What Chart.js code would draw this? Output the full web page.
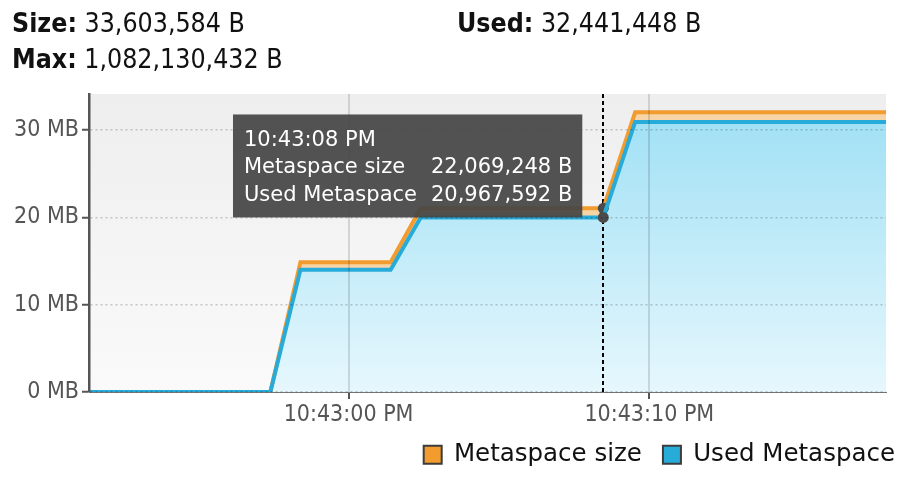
<!DOCTYPE html>
<html>
<head>
<meta charset="utf-8">
<script src="https://cdn.jsdelivr.net/npm/chart.js@4/dist/chart.umd.min.js"></script>
<style>
  html, body { margin: 0; padding: 0; background: #fff; }
  #wrap { position: relative; width: 908px; height: 478px; overflow: hidden; }
  #c { position: absolute; left: 0; top: 0; }
  .hdr { position: absolute; font-family: "DejaVu Sans Condensed", "DejaVu Sans", sans-serif; font-stretch: condensed; font-size: 26.5px; color: #111; white-space: nowrap; line-height: 28px; }
  .hdr b { font-weight: bold; }
</style>
</head>
<body>
<div id="wrap">
  <canvas id="c" width="908" height="478"></canvas>
  <div class="hdr" id="h1" style="left:12px; top:8.5px;"></div>
  <div class="hdr" id="h2" style="left:457px; top:8.5px;"></div>
  <div class="hdr" id="h3" style="left:12px; top:44.8px;"></div>
</div>
<script>
// ---- data ----
const headerLabels = ['Size:', 'Used:', 'Max:'];
const headerValues = [33603584, 32441448, 1082130432];
// seconds relative to 10:43:00 PM
const timeOffsets = [-8.63, -2.6, -1.6, 1.4, 2.4, 8.47, 9.53, 17.87];
const metaspaceSize = [0, 0, 15600000, 15600000, 22069248, 22069248, 33603584, 33603584];
const usedMetaspace = [0, 0, 14680000, 14680000, 20967592, 20967592, 32441448, 32441448];
const seriesNames = ['Metaspace size', 'Used Metaspace'];
const xTickValues = [0, 10];
const xTickLabels = ['10:43:00 PM', '10:43:10 PM'];
const MiB = 1048576;
const yTickValues = [0, 10 * MiB, 20 * MiB, 30 * MiB];
const yTickLabels = ['0 MB', '10 MB', '20 MB', '30 MB'];
const yMax = 35800000;
const hoverIndex = 5;
const hoverTitle = '10:43:08 PM';

// ---- header ----
const fmt = v => v.toLocaleString('en-US') + ' B';
['h1', 'h2', 'h3'].forEach((id, i) => {
  document.getElementById(id).innerHTML = '<b>' + headerLabels[i] + '</b> ' + fmt(headerValues[i]);
});

const condFont = '"DejaVu Sans Condensed", "DejaVu Sans", sans-serif';
const regFont = '"DejaVu Sans", sans-serif';

const bgPlugin = {
  id: 'plotBg',
  beforeDraw(chart) {
    const {ctx, chartArea: a} = chart;
    const g = ctx.createLinearGradient(0, a.top, 0, a.bottom);
    g.addColorStop(0, '#eeeeee');
    g.addColorStop(1, '#fafafa');
    ctx.save();
    ctx.fillStyle = g;
    ctx.fillRect(a.left, a.top, a.right - a.left, a.bottom - a.top);
    ctx.restore();
  }
};

const crossPlugin = {
  id: 'cross',
  beforeDatasetsDraw(chart) {
    const {ctx, chartArea: a} = chart;
    const p = chart.getDatasetMeta(0).data[hoverIndex];
    ctx.save();
    ctx.strokeStyle = '#000';
    ctx.lineWidth = 2;
    ctx.setLineDash([4, 3]);
    ctx.beginPath();
    ctx.moveTo(Math.round(p.x), a.top);
    ctx.lineTo(Math.round(p.x), a.bottom);
    ctx.stroke();
    ctx.restore();
  }
};

const tipPlugin = {
  id: 'tip',
  afterDraw(chart) {
    const {ctx} = chart;
    const p0 = chart.getDatasetMeta(0).data[hoverIndex];
    const p1 = chart.getDatasetMeta(1).data[hoverIndex];
    const rows = [
      [seriesNames[0], fmt(metaspaceSize[hoverIndex])],
      [seriesNames[1], fmt(usedMetaspace[hoverIndex])]
    ];
    ctx.save();
    ctx.font = '21px ' + regFont;
    const lw = Math.max(...rows.map(r => ctx.measureText(r[0]).width), ctx.measureText(hoverTitle).width);
    const vw = Math.max(...rows.map(r => ctx.measureText(r[1]).width));
    const padL = 11, padR = 10, gap = 14;
    const w = padL + lw + gap + vw + padR;
    const right = p0.x - 21;
    const bottom = Math.max(p0.y, p1.y);
    const h = 103;
    const left = right - w, top = bottom - h;
    ctx.fillStyle = 'rgba(68,68,68,0.92)';
    ctx.fillRect(left, top, w, h);
    ctx.fillStyle = '#fff';
    ctx.textBaseline = 'alphabetic';
    ctx.textAlign = 'left';
    ctx.fillText(hoverTitle, left + padL, top + 32);
    rows.forEach((r, i) => {
      const y = top + 59 + i * 27.5;
      ctx.textAlign = 'left';
      ctx.fillText(r[0], left + padL, y);
      ctx.textAlign = 'right';
      ctx.fillText(r[1], right - padR, y);
    });
    ctx.restore();
  }
};

const pts = arr => timeOffsets.map((t, i) => ({x: t, y: arr[i]}));

const blueFill = (c) => {
  const {chart} = c;
  const a = chart.chartArea;
  if (!a) return '#c8eef9';
  const y = chart.scales.y;
  const g = chart.ctx.createLinearGradient(0, y.getPixelForValue(usedMetaspace[usedMetaspace.length - 1]), 0, a.bottom);
  g.addColorStop(0, '#a2e1f5');
  g.addColorStop(1, '#e6f7fd');
  return g;
};

const ptRadius = c => (c.dataIndex === hoverIndex ? 5.5 : 0);

new Chart(document.getElementById('c'), {
  type: 'line',
  data: {
    datasets: [
      {
        label: seriesNames[0],
        data: pts(metaspaceSize),
        borderColor: '#f29b2e',
        backgroundColor: '#f7d4a6',
        borderWidth: 4,
        fill: 1,
        tension: 0,
        pointRadius: ptRadius,
        pointBackgroundColor: '#4a4a4a',
        pointBorderWidth: 0,
        order: 1,
        clip: 0
      },
      {
        label: seriesNames[1],
        data: pts(usedMetaspace),
        borderColor: '#27abd9',
        backgroundColor: blueFill,
        borderWidth: 4,
        fill: 'origin',
        tension: 0,
        pointRadius: ptRadius,
        pointBackgroundColor: '#4a4a4a',
        pointBorderWidth: 0,
        order: 0,
        clip: 0
      }
    ]
  },
  options: {
    responsive: false,
    animation: false,
    devicePixelRatio: 1,
    events: [],
    layout: { padding: { top: 94, left: 0, right: -8, bottom: 1 } },
    scales: {
      x: {
        type: 'linear',
        min: timeOffsets[0],
        max: timeOffsets[timeOffsets.length - 1],
        afterBuildTicks: s => { s.ticks = xTickValues.map(v => ({value: v})); },
        afterFit: s => { s.height = 29.5; },
        ticks: {
          callback: (v, i) => xTickLabels[i],
          font: { family: condFont, size: 23 },
          color: '#555',
          padding: 2,
          maxRotation: 0,
          autoSkip: false
        },
        grid: {
          color: 'rgba(0,0,0,0.13)',
          lineWidth: 2,
          tickColor: '#555',
          tickWidth: 2,
          tickLength: 7,
          z: 1
        },
        border: { color: '#777', width: 1, z: 1 }
      },
      y: {
        type: 'linear',
        min: 0,
        max: yMax,
        afterBuildTicks: s => { s.ticks = yTickValues.map(v => ({value: v})); },
        afterFit: s => { s.width = 89; },
        ticks: {
          callback: (v, i) => yTickLabels[i],
          font: { family: condFont, size: 23 },
          color: '#555',
          padding: 3
        },
        grid: {
          color: 'rgba(0,0,0,0.2)',
          lineWidth: 1.5,
          tickColor: '#555',
          tickWidth: 2,
          tickLength: 7,
          tickBorderDash: [],
          z: 1
        },
        border: { color: '#555', width: 2.5, dash: [2, 3], z: 1 }
      },
      yr: {
        position: 'right',
        display: true,
        grid: { display: false },
        ticks: { display: false },
        border: { display: false },
        afterFit: s => { s.width = 30; }
      }
    },
    plugins: {
      filler: { drawTime: 'beforeDatasetsDraw' },
      tooltip: { enabled: false },
      legend: {
        position: 'bottom',
        align: 'end',
        labels: {
          font: { family: regFont, size: 24.5 },
          color: '#111',
          boxWidth: 18,
          boxHeight: 18,
          padding: 21,
          sort: (a, b) => a.datasetIndex - b.datasetIndex,
          generateLabels: chart => chart.data.datasets.map((ds, i) => ({
            text: ds.label,
            fillStyle: ds.borderColor,
            strokeStyle: '#3c3c3c',
            lineWidth: 2,
            hidden: false,
            datasetIndex: i,
            fontColor: '#111'
          }))
        }
      }
    }
  },
  plugins: [bgPlugin, crossPlugin, tipPlugin]
});
</script>
</body>
</html>
